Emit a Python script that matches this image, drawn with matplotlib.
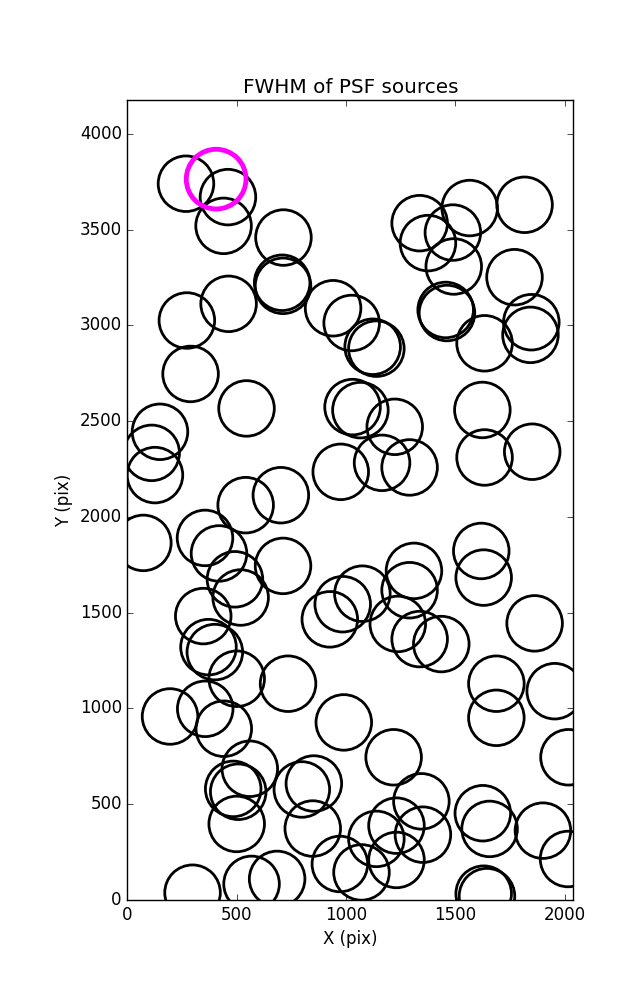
# -*- coding:utf-8 -*-

import numpy
import matplotlib
matplotlib.use('Agg')
import matplotlib.pyplot as plt

# Source positions (pix)
x_src = [268, 460, 440, 714, 712, 708, 463, 272, 289, 941, 1026, 1122, 1139,
         1337, 1566, 1817, 1375, 1489, 1493, 1771, 1456, 1462, 1634, 1848, 1844,
         545, 149, 111, 126, 541, 702, 73, 355, 419, 492, 518, 712, 347,
         976, 1030, 1066, 1223, 1165, 1291, 1624, 1634, 1852, 1619, 1630,
         1311, 1291, 1075, 985, 926, 1237, 1337, 1436, 1863, 371, 400,
         500, 735, 195, 356, 441, 990, 560, 484, 507, 798, 853, 500, 848,
         298, 568, 685, 972, 1071, 1231, 1139, 1231, 1352, 1345, 1218,
         1626, 1657, 1901, 2016, 1630, 1645, 1688, 1688, 1955, 2018]
y_src = [3739, 3669, 3519, 3458, 3206, 3222, 3112, 3025, 2746, 3089, 3012, 2888, 2878,
         3533, 3612, 3629, 3429, 3484, 3307, 3251, 3080, 3064, 2906, 3016, 2950,
         2566, 2444, 2334, 2218, 2061, 2113, 1864, 1890, 1809, 1674, 1579, 1744, 1482,
         2235, 2573, 2557, 2470, 2282, 2258, 2558, 2310, 2340, 1822, 1683,
         1718, 1617, 1599, 1544, 1465, 1441, 1362, 1336, 1444, 1320, 1294,
         1155, 1129, 958, 998, 894, 927, 685, 580, 565, 577, 608, 397, 373,
         38, 84, 110, 188, 144, 209, 319, 388, 341, 515, 745,
         453, 371, 362, 214, 33, 20, 1129, 951, 1090, 745]

# Highlighted source
x_hl = [406]
y_hl = [3763]

plt.style.use('classic')
plt.rcParams['figure.facecolor'] = 'white'
plt.rcParams['savefig.facecolor'] = 'white'

fig = plt.figure(figsize=(6.37, 10), dpi=100)
fig.subplots_adjust(left=0.2, right=0.9, bottom=0.1, top=0.9)
ax = fig.add_subplot(111)

ax.scatter(x_src, y_src, s=1600, facecolors='none', edgecolors='k', linewidths=2)
ax.scatter(x_hl, y_hl, s=1850, facecolors='none', edgecolors='magenta', linewidths=3.5)

ax.set_xlim(0, 2040)
ax.set_ylim(0, 4176)
ax.set_xticks([0, 500, 1000, 1500, 2000])
ax.set_yticks(numpy.arange(0, 4001, 500))
ax.set_xlabel('X (pix)')
ax.set_ylabel('Y (pix)')
ax.set_title('FWHM of PSF sources')

plt.savefig('out.png', dpi=100)
